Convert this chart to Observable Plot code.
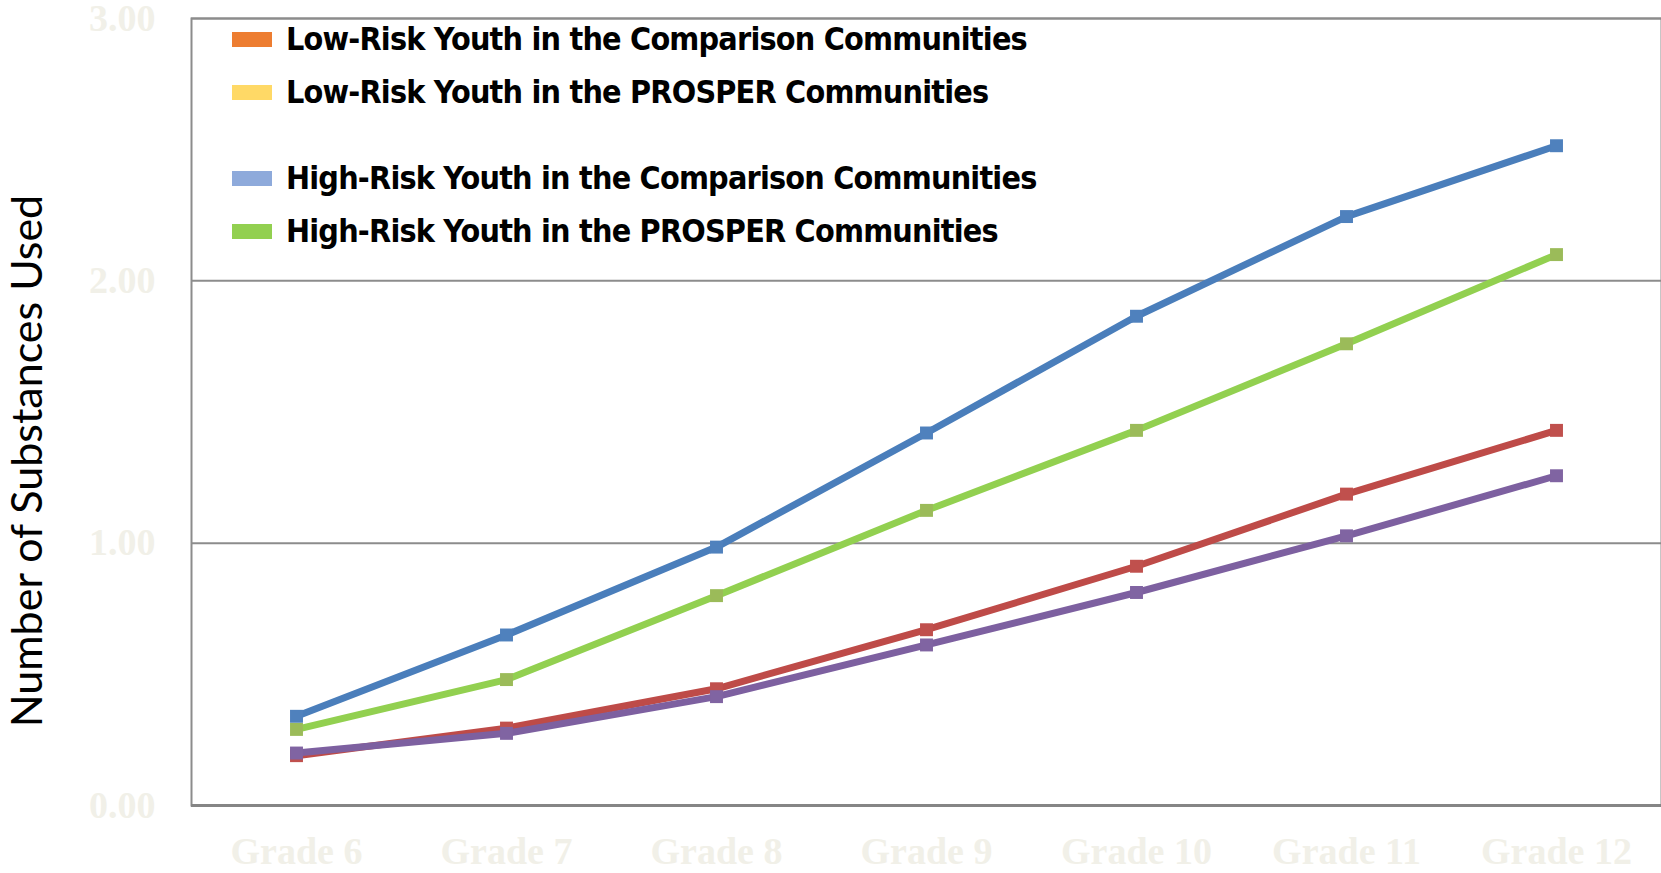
<!DOCTYPE html>
<html>
<head>
<meta charset="utf-8">
<script src="https://cdn.jsdelivr.net/npm/d3@7"></script>
<script src="https://cdn.jsdelivr.net/npm/@observablehq/plot@0.6"></script>
<style>
  html, body { margin: 0; padding: 0; background: #fff; }
  #wrap { position: relative; width: 1661px; height: 873px; overflow: hidden; background: #fff; }
  .lrow {
    position: absolute; left: 232px; height: 40px; display: flex; align-items: center; white-space: nowrap;
    font-family: "Liberation Sans Narrow", "DejaVu Sans Condensed", Lato, sans-serif;
    font-weight: bold; font-size: 32px; letter-spacing: -0.8px; color: #000;
  }
  .lsw { width: 40px; height: 15px; margin-right: 14px; flex: none; }
</style>
</head>
<body>
<div id="wrap"></div>
<script>
// ---- data ----
const grades = ["Grade 6", "Grade 7", "Grade 8", "Grade 9", "Grade 10", "Grade 11", "Grade 12"];
const seriesNames = [
  "High-Risk Youth in the Comparison Communities",
  "High-Risk Youth in the PROSPER Communities",
  "Low-Risk Youth in the Comparison Communities",
  "Low-Risk Youth in the PROSPER Communities"
];
const highRiskComparison = [0.34, 0.65, 0.985, 1.42, 1.865, 2.245, 2.515];
const highRiskProsper    = [0.29, 0.48, 0.80, 1.125, 1.43, 1.76, 2.10];
const lowRiskComparison  = [0.19, 0.295, 0.445, 0.67, 0.912, 1.187, 1.43];
const lowRiskProsper     = [0.20, 0.275, 0.415, 0.612, 0.812, 1.028, 1.257];
const seriesValues = [highRiskComparison, highRiskProsper, lowRiskComparison, lowRiskProsper];
const lineColors   = ["#4a7ebb", "#92d050", "#be4b48", "#7d60a0"];
const markerColors = ["#4f81bd", "#9bbb59", "#c0504d", "#8064a2"];
const yTicks = [0, 1, 2, 3];
const legendLabels = [
  "Low-Risk Youth in the Comparison Communities",
  "Low-Risk Youth in the PROSPER Communities",
  "High-Risk Youth in the Comparison Communities",
  "High-Risk Youth in the PROSPER Communities"
];
const legendSwatches = ["#ed7d31", "#ffd966", "#8eaadb", "#92d050"];
const yTitle = "Number of Substances Used";

// ---- build ----
const tickFont = {fontFamily: "'Liberation Serif', 'DejaVu Serif', serif", fontWeight: "bold", fontSize: 38, fill: "#f1f0e8"};

const seriesMarks = [];
seriesNames.forEach((name, i) => {
  const rows = grades.map((g, j) => ({series: name, grade: g, value: seriesValues[i][j]}));
  seriesMarks.push(Plot.line(rows, {x: "grade", y: "value", stroke: lineColors[i], strokeWidth: 7, strokeLinejoin: "round"}));
  seriesMarks.push(Plot.dot(rows, {x: "grade", y: "value", symbol: "square", r: 7.3, fill: markerColors[i], stroke: "none"}));
});

const chart = Plot.plot({
  width: 1661,
  height: 873,
  marginLeft: 191,
  marginRight: 0,
  marginTop: 18,
  marginBottom: 68,
  style: {background: "#fff", overflow: "visible"},
  x: {type: "point", domain: grades, padding: 0.5, align: 0.5, label: null},
  y: {domain: [0, 3], label: null},
  marks: [
    Plot.frame({stroke: "#8c8c8c", strokeWidth: 2}),
    Plot.ruleY([1, 2, 3], {stroke: "#8c8c8c", strokeWidth: 2}),
    Plot.ruleY([0], {stroke: "#858585", strokeWidth: 3}),
    Plot.axisY({ticks: yTicks, tickFormat: d => d.toFixed(2), tickSize: 0, tickPadding: 36, label: null, ...tickFont}),
    Plot.axisX({tickSize: 0, tickPadding: 32, label: null, ...tickFont}),
    Plot.text([yTitle], {
      text: d => d, frameAnchor: "left", dx: -163, dy: 49, rotate: -90,
      fontFamily: "Lato, 'Open Sans', sans-serif", fontSize: 43, fill: "#000", textAnchor: "middle"
    }),
    ...seriesMarks
  ]
});

const wrap = document.getElementById("wrap");
wrap.appendChild(chart);

// legend (inside plot area, top-left)
const legendCenters = [39, 92, 178, 231];
legendLabels.forEach((lab, i) => {
  const row = document.createElement("div");
  row.className = "lrow";
  row.style.top = (legendCenters[i] - 20) + "px";
  const sw = document.createElement("div");
  sw.className = "lsw";
  sw.style.background = legendSwatches[i];
  const tx = document.createElement("span");
  tx.textContent = lab;
  row.appendChild(sw);
  row.appendChild(tx);
  wrap.appendChild(row);
});
</script>
</body>
</html>
